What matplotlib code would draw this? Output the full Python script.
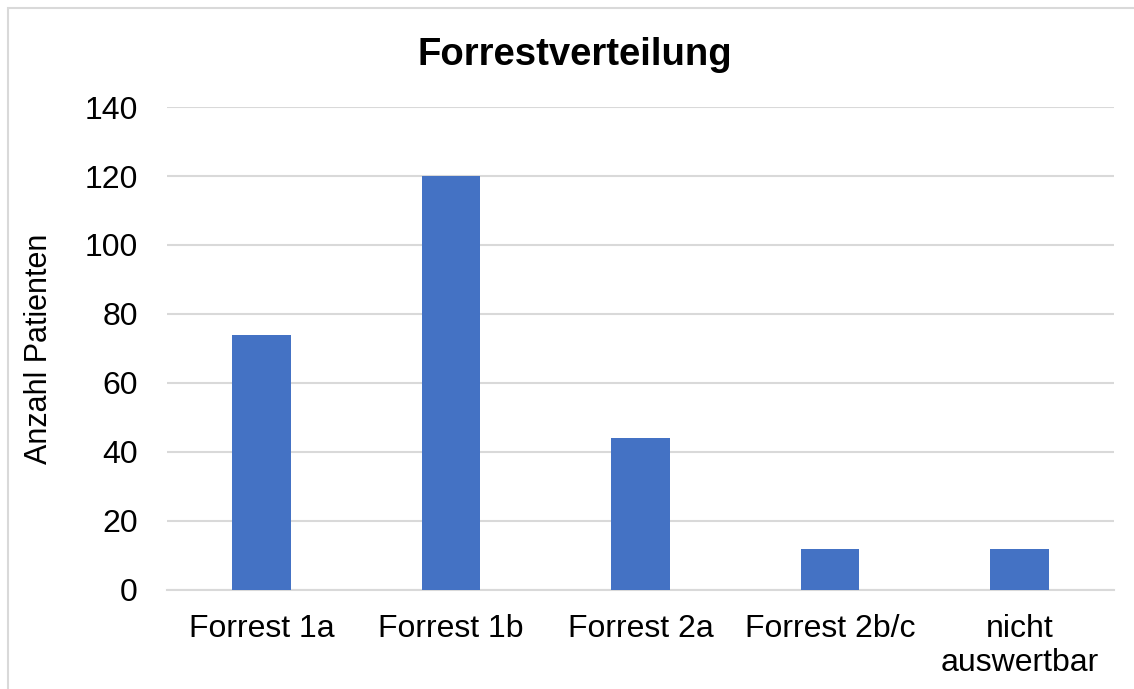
import matplotlib.pyplot as plt
from matplotlib.patches import Rectangle

categories = ["Forrest 1a", "Forrest 1b", "Forrest 2a", "Forrest 2b/c", "nicht\nauswertbar"]
patienten = [74, 120, 44, 12, 12]
y_ticks = [0, 20, 40, 60, 80, 100, 120, 140]

plt.rcParams["font.family"] = ["Liberation Sans", "DejaVu Sans"]

fig = plt.figure(figsize=(11.34, 6.89), dpi=100)
ax = fig.add_axes([0.1473, 0.1437, 0.8351, 0.701])

# light frame around the chart area
fig.patches.append(Rectangle((8 / 1134, -0.1), 1.2, (689 - 8) / 689 + 0.1,
                             transform=fig.transFigure, fill=False,
                             edgecolor="#d9d9d9", linewidth=1.5))

x = range(len(categories))
ax.bar(x, patienten, width=0.31, color="#4472C4", zorder=3)

ax.set_xlim(-0.5, len(categories) - 0.5)
ax.set_ylim(0, 140)
ax.set_yticks(y_ticks)
ax.set_xticks(list(x))
ax.set_xticklabels(categories, linespacing=1.18)
ax.grid(axis="y", color="#d9d9d9", linewidth=1.5, zorder=0)
ax.tick_params(axis="both", length=0, labelsize=23)
ax.tick_params(axis="y", pad=21)
ax.tick_params(axis="x", pad=17)
for s in ["top", "right", "left"]:
    ax.spines[s].set_visible(False)
ax.spines["bottom"].set_color("#d9d9d9")
ax.spines["bottom"].set_linewidth(1.5)

ax.set_ylabel("Anzahl Patienten", fontsize=22, labelpad=22)
fig.text(0.507, 0.92, "Forrestverteilung", fontsize=27.5, fontweight="bold",
         ha="center", va="center")

fig.savefig("out.png", dpi=100)
